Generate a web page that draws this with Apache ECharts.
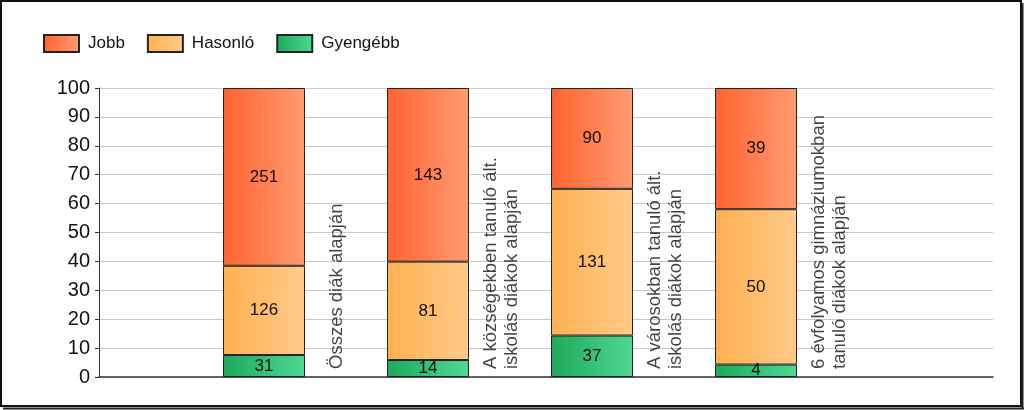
<!DOCTYPE html>
<html><head><meta charset="utf-8">
<script src="https://cdn.jsdelivr.net/npm/echarts@6/dist/echarts.min.js"></script>
<style>html,body{margin:0;padding:0;background:#fff}#c{width:1024px;height:410px}</style>
</head><body><div id="c"></div>
<script>
var categories = ['Összes diák alapján', 'A községekben tanuló ált.\niskolás diákok alapján', 'A városokban tanuló ált.\niskolás diákok alapján', '6 évfolyamos gimnáziumokban\ntanuló diákok alapján'];
var jobb = [251, 143, 90, 39];
var hasonlo = [126, 81, 131, 50];
var gyengebb = [31, 14, 37, 4];
var yTicks = [0, 10, 20, 30, 40, 50, 60, 70, 80, 90, 100];

var totals = categories.map(function(_, i){ return jobb[i] + hasonlo[i] + gyengebb[i]; });
function pctData(arr){ return arr.map(function(v, i){ return {value: v / totals[i] * 100, count: v}; }); }
function grad(a, b){ return new echarts.graphic.LinearGradient(0, 0, 1, 0, [{offset:0, color:a}, {offset:1, color:b}]); }
var FONT = 'Liberation Sans, Arial, sans-serif';
function barSeries(name, arr, c1, c2){
  return {
    name: name, type: 'bar', stack: 'all', barWidth: 82, xAxisIndex: 1, yAxisIndex: 1,
    data: pctData(arr),
    itemStyle: {color: grad(c1, c2), borderColor: '#222', borderWidth: 1},
    label: {show: true, position: 'inside', color: '#111', fontSize: 17, fontFamily: FONT,
      formatter: function(p){ return p.data.count; }},
    emphasis: {disabled: true}
  };
}
var chart = echarts.init(document.getElementById('c'), null, {renderer: 'canvas'});
chart.setOption({
  animation: false,
  backgroundColor: '#fff',
  legend: {
    left: 43, top: 34, padding: 0, itemWidth: 35, itemHeight: 17, itemGap: 22, icon: 'rect',
    data: ['Jobb', 'Hasonló', 'Gyengébb'],
    textStyle: {fontSize: 17, fontFamily: FONT, color: '#111', padding: [0, 0, 0, 4]}
  },
  grid: [
    {left: 99, right: 31, top: 88, bottom: 33},
    {left: 182, right: 186, top: 88, bottom: 33}
  ],
  xAxis: [
    {
      type: 'value', gridIndex: 0, min: -1.006, max: 4.445,
      axisLine: {show: true, onZero: false, lineStyle: {color: '#333', width: 1.5}},
      axisTick: {show: false}, axisLabel: {show: false}, splitLine: {show: false}
    },
    {
      type: 'category', gridIndex: 1, data: categories,
      axisLine: {show: false}, axisTick: {show: false}, axisLabel: {show: false}, splitLine: {show: false}
    }
  ],
  yAxis: [
    {
      type: 'value', gridIndex: 0, min: yTicks[0], max: yTicks[yTicks.length - 1], interval: 10,
      axisLine: {show: true, onZero: false, lineStyle: {color: '#333', width: 1}},
      axisTick: {show: true, length: 4, lineStyle: {color: '#333'}},
      axisLabel: {fontSize: 20, fontFamily: FONT, color: '#111', margin: 9},
      splitLine: {lineStyle: {color: '#c8c8c8', width: 1}}
    },
    {
      type: 'value', gridIndex: 1, min: yTicks[0], max: yTicks[yTicks.length - 1],
      axisLine: {show: false}, axisTick: {show: false}, axisLabel: {show: false}, splitLine: {show: false}
    }
  ],
  series: [
    barSeries('Gyengébb', gyengebb, '#1fa95c', '#4fd893'),
    barSeries('Hasonló', hasonlo, '#ffb04f', '#ffcb8a'),
    barSeries('Jobb', jobb, '#ff6330', '#ff9b72'),
    {
      type: 'scatter', symbolSize: 0, silent: true, xAxisIndex: 0, yAxisIndex: 0,
      data: categories.map(function(c, i){ return {value: [i + 0.445, 0], name: c}; }),
      label: {show: true, position: 'inside', rotate: 90, align: 'left', verticalAlign: 'middle',
        offset: [8, 0], fontSize: 18.5, lineHeight: 21, fontFamily: FONT, color: '#111',
        formatter: function(p){ return p.name; }}
    }
  ],
  graphic: [
    {type: 'rect', shape: {x: 1, y: 1, width: 1020, height: 405}, style: {fill: 'none', stroke: '#111', lineWidth: 2}, z: 100},
    {type: 'line', shape: {x1: 1022.5, y1: 3, x2: 1022.5, y2: 409}, style: {stroke: '#222', lineWidth: 2}, z: 100},
    {type: 'line', shape: {x1: 3, y1: 408.5, x2: 1024, y2: 408.5}, style: {stroke: '#222', lineWidth: 2}, z: 100}
  ]
});
</script></body></html>
